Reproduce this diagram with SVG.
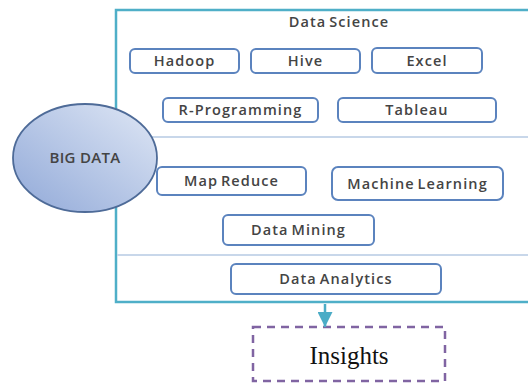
<svg xmlns="http://www.w3.org/2000/svg" width="528" height="383" viewBox="0 0 528 383">
<defs>
<style>
.box{fill:#fff;stroke:#5B83BE;stroke-width:2}
.lbl{font-family:"Open Sans","Liberation Sans",sans-serif;font-size:14.5px;font-weight:600;fill:#444;text-anchor:middle;letter-spacing:1.1px;word-spacing:-2px}
.div{stroke:#C8D7EA;stroke-width:2}
.frame{fill:none;stroke:#4FAFC8;stroke-width:2.5}
</style>
<linearGradient id="g" x1="0" y1="1" x2="1" y2="0">
<stop offset="0" stop-color="#91A9D8"/>
<stop offset="1" stop-color="#DFE7F5"/>
</linearGradient>
<marker id="ah" viewBox="0 0 10 10" refX="10" refY="5" markerWidth="6" markerHeight="6" markerUnits="strokeWidth" orient="auto">
<path d="M0,0 L10,5 L0,10 z" fill="#4BACC6"/>
</marker>
</defs>
<rect width="528" height="383" fill="#fff"/>
<g id="frame">
<rect class="frame" x="116" y="10" width="430" height="292"/>
<line class="div" x1="117" y1="137" x2="528" y2="137"/>
<line class="div" x1="117" y1="255" x2="528" y2="255"/>
<text class="lbl" x="339" y="27">Data Science</text>
</g>
<g id="big-data">
<ellipse cx="85" cy="158" rx="72" ry="54" fill="url(#g)" stroke="#4E6B98" stroke-width="1.8"/>
<text class="lbl" x="85" y="163" style="font-size:15px;letter-spacing:0.3px;word-spacing:0">BIG DATA</text>
</g>
<g id="hadoop"><rect class="box" x="130" y="49" width="109" height="24" rx="5"/><text class="lbl" x="184.5" y="66">Hadoop</text></g>
<g id="hive"><rect class="box" x="251" y="49" width="109" height="24" rx="5"/><text class="lbl" x="305.5" y="66">Hive</text></g>
<g id="excel"><rect class="box" x="372" y="48" width="110" height="25" rx="5"/><text class="lbl" x="427" y="66">Excel</text></g>
<g id="r-programming"><rect class="box" x="163" y="98" width="155" height="24" rx="5"/><text class="lbl" x="240.5" y="115">R-Programming</text></g>
<g id="tableau"><rect class="box" x="338" y="98" width="158" height="24" rx="5"/><text class="lbl" x="417" y="115">Tableau</text></g>
<g id="map-reduce"><rect class="box" x="157" y="167" width="149" height="28" rx="5"/><text class="lbl" x="231.5" y="186">Map Reduce</text></g>
<g id="machine-learning"><rect class="box" x="332" y="167" width="171" height="33" rx="6"/><text class="lbl" x="417.5" y="189">Machine Learning</text></g>
<g id="data-mining"><rect class="box" x="223" y="215" width="151" height="30" rx="5"/><text class="lbl" x="298.5" y="235">Data Mining</text></g>
<g id="data-analytics"><rect class="box" x="231" y="264" width="210" height="30" rx="5"/><text class="lbl" x="336" y="284">Data Analytics</text></g>
<g id="insights">
<rect x="253" y="327" width="192" height="54" fill="none" stroke="#8064A2" stroke-width="2.5" stroke-dasharray="8,6"/>
<text x="349" y="364" font-family="'Liberation Serif','Times New Roman',serif" font-size="25" fill="#111" text-anchor="middle">Insights</text>
</g>
<g id="connectors">
<line x1="325" y1="304" x2="325" y2="327" stroke="#4BACC6" stroke-width="2.5" marker-end="url(#ah)"/>
</g>
</svg>
